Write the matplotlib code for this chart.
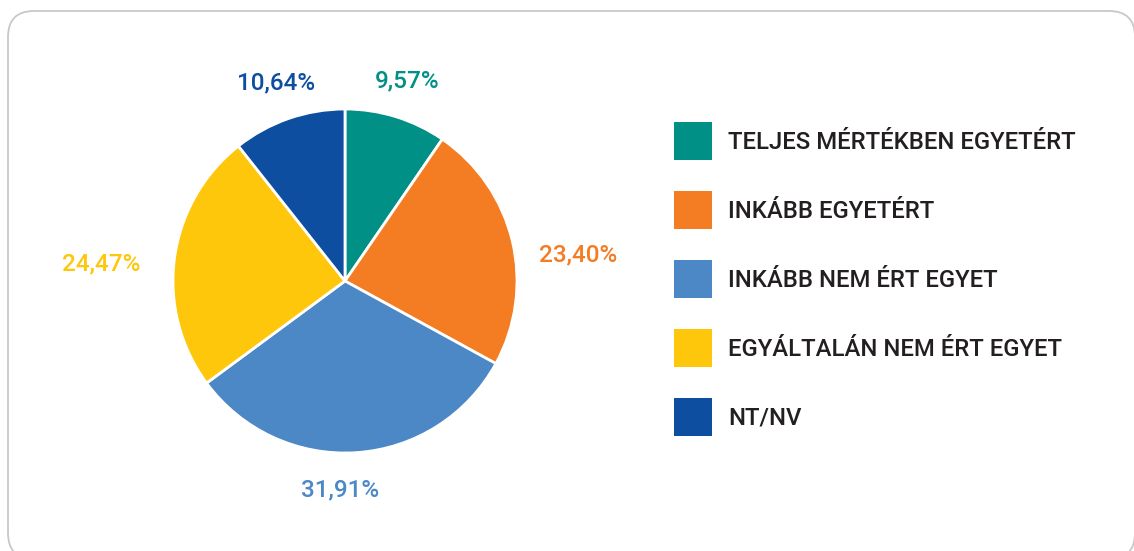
import numpy as np
import matplotlib.pyplot as plt
from matplotlib.patches import FancyBboxPatch, Rectangle

categories = ["TELJES MÉRTÉKBEN EGYETÉRT", "INKÁBB EGYETÉRT", "INKÁBB NEM ÉRT EGYET",
              "EGYÁLTALÁN NEM ÉRT EGYET", "NT/NV"]
values = [9.57, 23.40, 31.91, 24.47, 10.64]
colors = ["#009086", "#F47C22", "#4C87C6", "#FEC70B", "#0D4EA0"]

plt.rcParams['font.family'] = ['Roboto', 'DejaVu Sans']

W, H = 1134, 551
fig = plt.figure(figsize=(W / 100, H / 100), dpi=100)

# background frame in pixel units
bg = fig.add_axes([0, 0, 1, 1])
bg.set_xlim(0, W)
bg.set_ylim(H, 0)
bg.axis("off")
bg.add_patch(FancyBboxPatch((8, 11), 1127, 548, boxstyle="round,pad=0,rounding_size=26",
                            facecolor="white", edgecolor="#C8C8C8", linewidth=1.3))

# pie
cx, cy, r = 345, 281, 172
ax = fig.add_axes([(cx - r) / W, (H - cy - r) / H, 2 * r / W, 2 * r / H])
wedges, _ = ax.pie(values, colors=colors, startangle=90, counterclock=False, radius=1,
                   wedgeprops=dict(edgecolor="white", linewidth=2))
ax.set_xlim(-1, 1)
ax.set_ylim(-1, 1)
ax.set_aspect("equal")
ax.axis("off")

for w, v, c in zip(wedges, values, colors):
    ang = np.deg2rad((w.theta1 + w.theta2) / 2)
    x, y = 1.22 * np.cos(ang), 1.22 * np.sin(ang)
    if x > 0.5:
        ha = "left"
        x -= 0.06
        y -= 0.13
    elif x < -0.5:
        ha = "right"
        x += 0.02
        y -= 0.06
    else:
        ha = "center"
        x -= 0.11 if y < 0 else 0
    ax.text(x, y, f"{v:.2f}%".replace(".", ","), color=c, fontsize=17.5,
            fontweight="medium", ha=ha, va="center", clip_on=False)

# legend
for i, (cat, c) in enumerate(zip(categories, colors)):
    yc = 141 + i * 69
    bg.add_patch(Rectangle((674, yc - 19), 38, 38, facecolor=c, edgecolor="none"))
    bg.text(728, yc + 1.5, cat, color="#231F20", fontsize=17.2, fontweight="medium",
            ha="left", va="center")

fig.savefig("out.png", dpi=100)
